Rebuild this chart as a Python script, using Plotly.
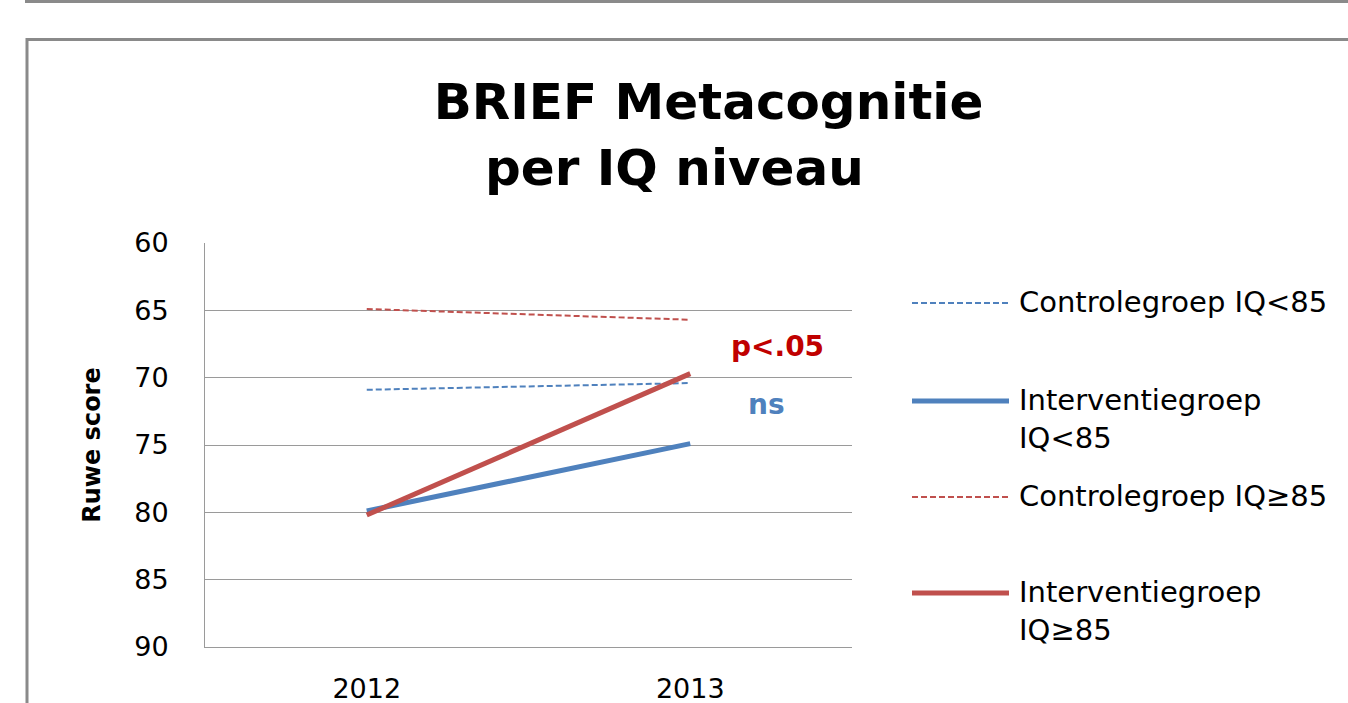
import plotly.graph_objects as go

# ---- data ----
years = ["2012", "2013"]
ctrl_low = [70.9, 70.4]     # Controlegroep IQ<85
int_low = [79.9, 74.9]      # Interventiegroep IQ<85
ctrl_high = [64.9, 65.7]    # Controlegroep IQ>=85
int_high = [80.2, 69.7]     # Interventiegroep IQ>=85
series_names = ["Controlegroep IQ<85", "Interventiegroep<br>IQ<85",
                "Controlegroep IQ≥85", "Interventiegroep<br>IQ≥85"]
y_ticks = [60, 65, 70, 75, 80, 85, 90]

BLUE = "#4F81BD"
RED = "#C0504D"
DARKRED = "#C00000"
GRID = "#9a9a9a"
BORDER = "#8a8a8a"

W, H = 1348, 703
PL, PR, PT, PB = 205, 852, 243, 647  # plot area in pixels
LEG_FS = 29


def px(x):
    return (x - PL) / (PR - PL)


def py(y):
    return (PB - y) / (PB - PT)


styles = [
    dict(color=BLUE, width=2, dash="6px,3px"),
    dict(color=BLUE, width=5, dash="solid"),
    dict(color=RED, width=2, dash="6px,3px"),
    dict(color=RED, width=5, dash="solid"),
]
values = [ctrl_low, int_low, ctrl_high, int_high]

fig = go.Figure()
for name, vals, st in zip(series_names, values, styles):
    fig.add_trace(go.Scatter(x=years, y=vals, mode="lines",
                             name=name.replace("<br>", " "),
                             line=st, showlegend=False))

shapes = []
annotations = []

# outer chart border and page line
shapes.append(dict(type="line", xref="paper", yref="paper",
                   x0=px(25), x1=px(1400), y0=py(1.5), y1=py(1.5),
                   line=dict(color=BORDER, width=3)))
shapes.append(dict(type="rect", xref="paper", yref="paper",
                   x0=px(27), x1=px(1400), y0=py(39.5), y1=py(760),
                   line=dict(color=BORDER, width=3)))

# custom legend
leg_y = [303, 401, 497, 593]
for name, st, ly in zip(series_names, styles, leg_y):
    shapes.append(dict(type="line", xref="paper", yref="paper",
                       x0=px(912), x1=px(1009), y0=py(ly), y1=py(ly),
                       line=dict(color=st["color"], width=st["width"],
                                 dash=st["dash"])))
    annotations.append(dict(xref="paper", yref="paper", x=px(1017),
                            y=py(ly - 1.3 * LEG_FS / 2 - 1), xanchor="left", yanchor="top",
                            align="left", showarrow=False,
                            text=name.replace("<", "&lt;").replace("&lt;br>", "<br>"),
                            font=dict(family="DejaVu Sans", size=LEG_FS, color="#000")))

# significance labels
annotations.append(dict(xref="paper", yref="paper", x=px(777), y=py(346),
                        xanchor="center", yanchor="middle",
                        text="p&lt;.05", showarrow=False,
                        font=dict(family="DejaVu Sans", size=28, color=DARKRED, weight="bold")))
annotations.append(dict(xref="paper", yref="paper", x=px(766), y=py(404),
                        xanchor="center", yanchor="middle",
                        text="ns", showarrow=False,
                        font=dict(family="DejaVu Sans", size=28, color=BLUE, weight="bold")))

# second title line
annotations.append(dict(xref="paper", yref="paper", x=px(674), y=py(168),
                        xanchor="center", yanchor="middle",
                        text="per IQ niveau", showarrow=False,
                        font=dict(family="DejaVu Sans", size=50, color="#000", weight="bold")))

fig.update_layout(
    width=W, height=H,
    margin=dict(l=PL, r=W - PR, t=PT, b=H - PB, autoexpand=False),
    paper_bgcolor="white", plot_bgcolor="white",
    title=dict(text="BRIEF Metacognitie", x=708.5 / W, xanchor="center",
               xref="container", yref="container", y=1 - 101 / H, yanchor="middle",
               font=dict(family="DejaVu Sans", size=50, color="#000", weight="bold")),
    shapes=shapes, annotations=annotations,
    xaxis=dict(type="category", range=[-0.5, 1.5], showgrid=False,
               showline=True, linecolor=GRID, linewidth=1,
               ticks="outside", ticklen=18, tickcolor="rgba(0,0,0,0)",
               tickfont=dict(family="DejaVu Sans", size=27, color="#000"),
               automargin=False, fixedrange=True),
    yaxis=dict(range=[90, 60], tickvals=y_ticks, showgrid=True,
               gridcolor=GRID, gridwidth=1, zeroline=False,
               showline=True, linecolor=GRID, linewidth=1,
               ticks="outside", ticklen=30, tickcolor="rgba(0,0,0,0)",
               tickfont=dict(family="DejaVu Sans", size=27, color="#000"),
               title=dict(text="Ruwe score", standoff=26,
                          font=dict(family="DejaVu Sans", size=24, color="#000", weight="bold")),
               automargin=False, fixedrange=True),
)

fig.write_html("out.html", config={"displayModeBar": False},
               post_script="document.body.style.margin='0';document.body.style.overflow='hidden';")
